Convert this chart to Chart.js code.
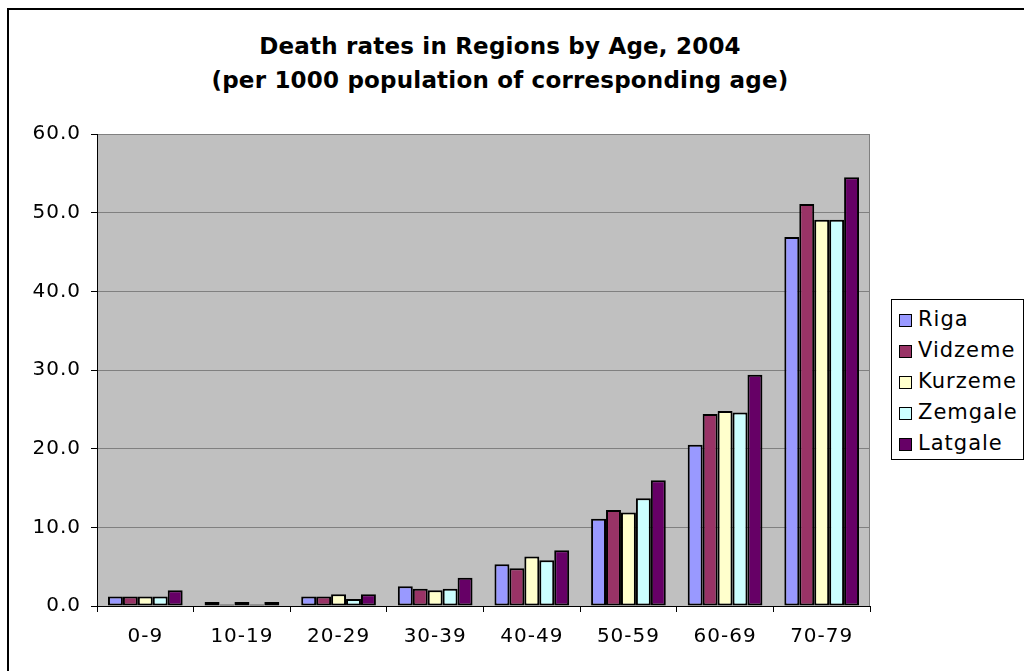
<!DOCTYPE html>
<html>
<head>
<meta charset="utf-8">
<script src="https://cdn.jsdelivr.net/npm/chart.js@4"></script>
<style>
    html, body { margin: 0; padding: 0; background: #fff; }
    body { width: 1024px; height: 671px; position: relative; overflow: hidden; font-family: 'DejaVu Sans', sans-serif; }
    #frame { position: absolute; left: 7px; top: 8px; width: 1100px; height: 700px; border-left: 2px solid #000; border-top: 2px solid #000; }
    #title { position: absolute; left: 0; top: 29px; width: 1000px; text-align: center; font-weight: bold; font-size: 23px; line-height: 34px; letter-spacing: 0.2px; color: #000; }
    #chart { position: absolute; left: 0; top: 0; }
    #legend { position: absolute; left: 891px; top: 299px; width: 131px; height: 155px; padding-top: 4px; border: 1px solid #000; background: #fff; }
    .item { height: 31px; line-height: 31px; font-size: 21px; letter-spacing: 1px; white-space: nowrap; }
    .swatch { display: inline-block; width: 11px; height: 11px; border: 1px solid #000; margin: 0 6px 0 7px; vertical-align: -1px; }
</style>
</head>
<body>
<div id="frame"></div>
<div id="title">Death rates in Regions by Age, 2004<br>(per 1000 population of corresponding age)</div>
<canvas id="chart" width="1024" height="671"></canvas>
<div id="legend"></div>
<script>
// Age groups (categories)
const ageGroups = ['0-9', '10-19', '20-29', '30-39', '40-49', '50-59', '60-69', '70-79'];

// Death rates per 1000
const riga    = [1.2, 0.5, 1.2, 2.5, 5.3, 11.1, 20.5, 46.9];
const vidzeme = [1.2, 0.2, 1.2, 2.2, 4.8, 12.2, 24.4, 51.1];
const kurzeme = [1.2, 0.5, 1.5, 2.0, 6.3, 11.9, 24.8, 49.1];
const zemgale = [1.2, 0.2, 0.9, 2.2, 5.8, 13.7, 24.6, 49.1];
const latgale = [2.0, 0.5, 1.5, 3.6, 7.1, 16.0, 29.4, 54.5];

const regionNames = ['Riga', 'Vidzeme', 'Kurzeme', 'Zemgale', 'Latgale'];
const regionData = [riga, vidzeme, kurzeme, zemgale, latgale];
const regionColors = ['#9999ff', '#993366', '#ffffcc', '#ccffff', '#660066'];

// Y axis ticks
const yMin = 0;
const yMax = 60;
const yStep = 10;

// Gray plot area + letter spacing to mimic the wide Excel text
const plotBackground = {
    id: 'plotBackground',
    beforeLayout(chart) {
        chart.ctx.letterSpacing = '1px';
    },
    beforeDraw(chart) {
        const {ctx, chartArea} = chart;
        ctx.letterSpacing = '1px';
        ctx.save();
        ctx.fillStyle = '#c0c0c0';
        ctx.fillRect(chartArea.left, chartArea.top, chartArea.right - chartArea.left, chartArea.bottom - chartArea.top);
        ctx.strokeStyle = '#808080';
        ctx.lineWidth = 1;
        ctx.beginPath();
        ctx.moveTo(chartArea.right - 0.5, chartArea.top);
        ctx.lineTo(chartArea.right - 0.5, chartArea.bottom);
        ctx.stroke();
        ctx.restore();
    }
};

const tickFont = { family: "'DejaVu Sans', sans-serif", size: 20 };

new Chart(document.getElementById('chart'), {
    type: 'bar',
    data: {
        labels: ageGroups,
        datasets: regionNames.map((name, i) => ({
            label: name,
            data: regionData[i],
            backgroundColor: regionColors[i],
            borderColor: '#000',
            borderWidth: 2,
            borderSkipped: false,
            barPercentage: 1.0,
            categoryPercentage: 0.773
        }))
    },
    options: {
        responsive: false,
        animation: false,
        layout: { padding: { top: 134, right: 154, left: 0, bottom: 0 } },
        plugins: {
            legend: { display: false },
            title: { display: false },
            tooltip: { enabled: false }
        },
        scales: {
            x: {
                grid: {
                    drawOnChartArea: false,
                    color: '#000',
                    tickLength: 6
                },
                border: { color: '#000', width: 1 },
                ticks: {
                    color: '#000',
                    font: tickFont,
                    padding: 13,
                    maxRotation: 0
                },
                afterFit(scale) { scale.height = 65; }
            },
            y: {
                min: yMin,
                max: yMax,
                grid: {
                    color: '#808080',
                    tickColor: '#000',
                    tickLength: 6
                },
                border: { color: '#000', width: 1 },
                ticks: {
                    stepSize: yStep,
                    color: '#000',
                    font: tickFont,
                    padding: 10,
                    callback: (value) => value.toFixed(1)
                },
                afterFit(scale) { scale.width = 97; }
            }
        }
    },
    plugins: [plotBackground]
});

// HTML legend built from the series names/colours
const legendEl = document.getElementById('legend');
regionNames.forEach((name, i) => {
    const row = document.createElement('div');
    row.className = 'item';
    const sw = document.createElement('span');
    sw.className = 'swatch';
    sw.style.background = regionColors[i];
    row.appendChild(sw);
    row.appendChild(document.createTextNode(name));
    legendEl.appendChild(row);
});
</script>
</body>
</html>
